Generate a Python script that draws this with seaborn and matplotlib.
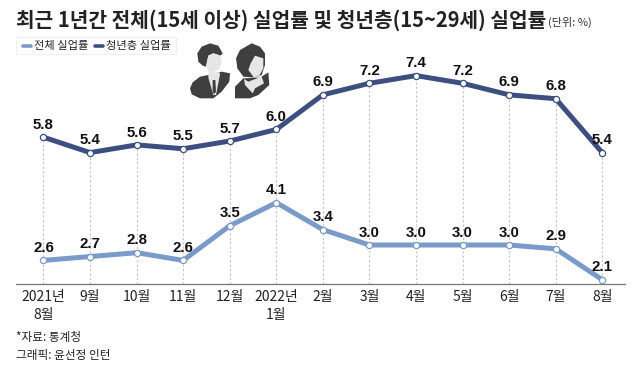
import matplotlib
matplotlib.use('Agg')
import matplotlib.pyplot as plt
from matplotlib.patches import Polygon, Rectangle
import pandas as pd
import seaborn as sns

months = ['2021년\n8월', '9월', '10월', '11월', '12월', '2022년\n1월', '2월', '3월', '4월', '5월', '6월', '7월', '8월']
total_rate = [2.6, 2.7, 2.8, 2.6, 3.5, 4.1, 3.4, 3.0, 3.0, 3.0, 3.0, 2.9, 2.1]
youth_rate = [5.8, 5.4, 5.6, 5.5, 5.7, 6.0, 6.9, 7.2, 7.4, 7.2, 6.9, 6.8, 5.4]

LIGHT = '#7a9bc9'
DARK = '#3d4f80'
W, H = 640, 369

sns.set_style('white')
plt.rcParams['font.family'] = ['Noto Sans CJK KR', 'DejaVu Sans']

df = pd.DataFrame({'x': range(len(months)), 'total': total_rate, 'youth': youth_rate})

fig = plt.figure(figsize=(W / 100, H / 100), dpi=100, facecolor='white')
ax = fig.add_axes([16 / W, 1 - 283.5 / H, (625.5 - 16) / W, (283.5 - 60) / H])

# dotted guide lines from the axis up to the youth line
ax.vlines(df['x'], 2.0, df['youth'], color='#c4c4c4', lw=0.8, ls=(0, (2, 2)), zorder=1)

for col, c in [('total', LIGHT), ('youth', DARK)]:
    sns.lineplot(data=df, x='x', y=col, color=c, lw=3.6, ax=ax, zorder=2, solid_joinstyle='round')
    sns.scatterplot(data=df, x='x', y=col, s=20, color='white', edgecolor=c, linewidth=0.9, ax=ax, zorder=3)

# value labels
for i, (a, b) in enumerate(zip(total_rate, youth_rate)):
    ax.text(i, a + 0.14, f'{a:.1f}', ha='center', va='bottom', fontsize=10.8, color='#111111',
            family=['Liberation Sans'], fontweight='bold', zorder=4)
    ax.text(i, b + 0.14, f'{b:.1f}', ha='center', va='bottom', fontsize=10.8, color='#111111',
            family=['Liberation Sans'], fontweight='bold', zorder=4)

ax.set_xlim(-0.59, 12.5)
ax.set_ylim(2.0, 7.805)
ax.set_xticks(df['x'])
ax.set_xticklabels(months, fontsize=10, color='#222222', linespacing=1.3)
ax.set_yticks([])
ax.set_xlabel('')
ax.set_ylabel('')
ax.tick_params(axis='x', length=0, pad=5)
for s in ['top', 'left', 'right']:
    ax.spines[s].set_visible(False)
ax.spines['bottom'].set_color('#777777')
ax.spines['bottom'].set_linewidth(0.9)
ax.patch.set_alpha(0)

# overlay in pixel coordinates for title, legend, notes and icons
ov = fig.add_axes([0, 0, 1, 1], zorder=-1)
ov.set_xlim(0, W)
ov.set_ylim(H, 0)
ov.axis('off')

ov.text(16, 20, '최근 1년간 전체(15세 이상) 실업률 및 청년층(15~29세) 실업률', fontsize=14.55, fontweight='bold',
        color='#222222', va='center', ha='left')
ov.text(548, 22, '(단위: %)', fontsize=8, color='#333333', va='center', ha='left')

ov.add_patch(Rectangle((16, 37), 160, 17, fc='white', ec='#eeeeee', lw=0.6))
ov.plot([23, 31], [46, 46], color=LIGHT, lw=2.6, solid_capstyle='round')
ov.text(34, 46, '전체 실업률', fontsize=8.1, color='#222222', va='center')
ov.plot([95, 103], [46, 46], color=DARK, lw=2.6, solid_capstyle='round')
ov.text(106, 46, '청년층 실업률', fontsize=8.1, color='#222222', va='center')

ov.text(16, 338, '*자료: 통계청', fontsize=8.4, color='#222222', va='center')
ov.text(16, 355, '그래픽: 윤선정 인턴', fontsize=8.4, color='#222222', va='center')


def icon_part(points, color):
    # points are traced on the 3x crop of the icon area
    ov.add_patch(Polygon([(180 + px / 3, 35 + py / 3) for px, py in points], fc=color, ec='none'))


ICON = '#3f3f3f'
SKIN = '#e6e6e6'
# man
icon_part([(30, 160), (38, 142), (60, 125), (85, 120), (125, 110), (150, 115), (148, 140), (125, 170), (100, 190),
           (60, 190), (35, 178)], ICON)
icon_part([(85, 105), (100, 110), (118, 112), (120, 118), (108, 180), (100, 180), (85, 128)], SKIN)
icon_part([(98, 135), (106, 135), (108, 170), (102, 178), (98, 170)], ICON)
icon_part([(90, 25), (115, 32), (128, 55), (122, 62), (100, 55), (85, 62), (78, 95), (68, 92), (55, 80), (52, 55),
           (65, 35)], ICON)
icon_part([(78, 95), (85, 62), (100, 55), (122, 62), (125, 85), (115, 105), (95, 112), (85, 105)], SKIN)

# woman
icon_part([(165, 190), (165, 155), (190, 130), (240, 128), (265, 112), (268, 150), (235, 180), (210, 190)], ICON)
icon_part([(215, 25), (240, 35), (255, 55), (255, 90), (245, 120), (225, 128), (190, 125), (172, 100), (168, 70),
           (180, 45)], ICON)
icon_part([(192, 132), (205, 140), (245, 125), (252, 145), (225, 160), (218, 175), (195, 150)], SKIN)
icon_part([(225, 62), (250, 70), (250, 100), (238, 122), (222, 128), (205, 105), (212, 85)], SKIN)

fig.savefig('out.png', dpi=100, facecolor='white')
